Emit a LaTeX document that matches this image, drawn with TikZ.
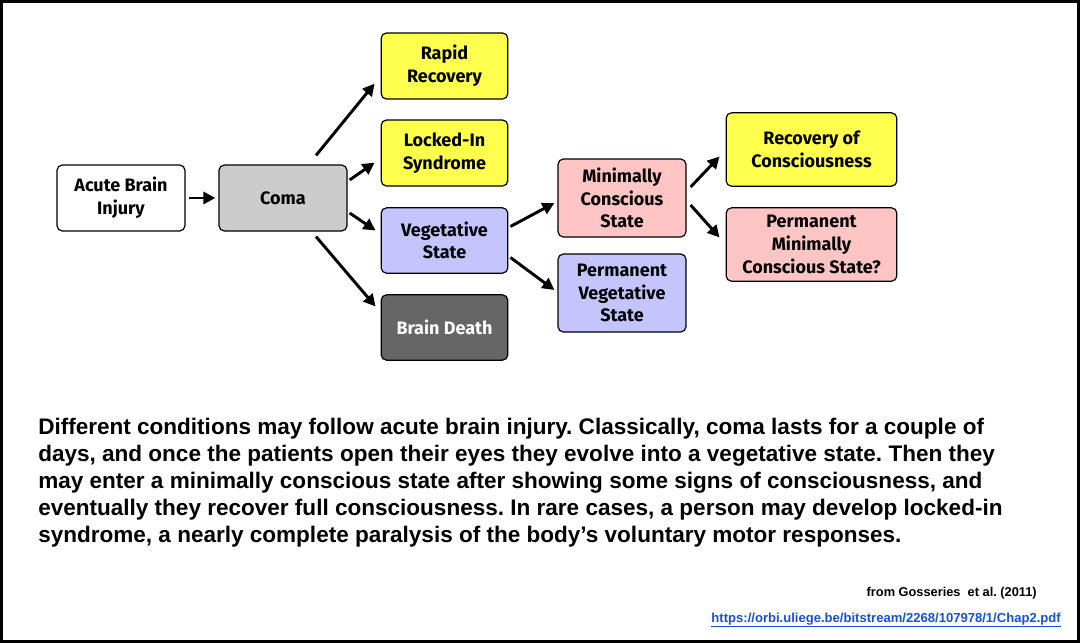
\documentclass[tikz,border=0pt]{standalone}
\usepackage{fontspec}
\setmainfont{Liberation Sans}
\newfontfamily\boxfont{Fira Sans}
\usetikzlibrary{calc,arrows.meta}
\definecolor{yel}{HTML}{FFFF4D}
\definecolor{lav}{HTML}{C4C4FF}
\definecolor{pnk}{HTML}{FFC4C4}
\definecolor{gry}{HTML}{CCCCCC}
\definecolor{dgry}{HTML}{666666}
\definecolor{lnk}{HTML}{1A4FD6}
\begin{document}
\frenchspacing
\begin{tikzpicture}[x=0.75pt,y=-0.75pt,
  box/.style={draw=black,line width=0.9pt,rounded corners=4pt,align=center,
    font=\boxfont\bfseries\fontsize{13.5}{17}\selectfont,inner sep=0pt},
  arr/.style={line width=2.2pt,-{Triangle[length=9pt,width=9pt]}}]
\draw[line width=2.2pt,fill=white] (1.5,1.5) rectangle (1078.5,641.5);
\useasboundingbox (0,0) rectangle (1080,643);
\node[box,fill=white,minimum width=96pt,minimum height=49.5pt] (abi) at (121,198) {Acute Brain\\Injury};
\node[box,fill=gry,minimum width=96pt,minimum height=49.5pt] (coma) at (283,198) {Coma};
\node[box,fill=yel,minimum width=95pt,minimum height=49.5pt] (rr) at (444.5,66) {Rapid\\Recovery};
\node[box,fill=yel,minimum width=95pt,minimum height=49.5pt] (lis) at (444.5,153) {Locked-In\\Syndrome};
\node[box,fill=lav,minimum width=95pt,minimum height=49pt] (vs) at (444.5,240.5) {Vegetative\\State};
\node[box,fill=dgry,text=white,minimum width=95pt,minimum height=49pt] (bd) at (444.5,327.5) {Brain Death};
\node[box,fill=pnk,minimum width=96pt,minimum height=58.5pt] (mcs) at (622,198) {Minimally\\Conscious\\State};
\node[box,fill=lav,minimum width=96pt,minimum height=58.5pt] (pvs) at (622,293) {Permanent\\Vegetative\\State};
\node[box,fill=yel,minimum width=128pt,minimum height=55pt] (roc) at (811.5,149.5) {Recovery of\\Consciousness};
\node[box,fill=pnk,minimum width=128pt,minimum height=55pt] (pmcs) at (811.5,244.5) {Permanent\\Minimally\\Conscious State?};
\draw[arr] ($(abi.east)+(3,0)$) -- ($(coma.west)+(-3,0)$);
\draw[arr] ($(coma.north)+(33,-9)$) -- ($(rr.south west)+(-6,-16)$);
\draw[arr] ($(coma.east)+(2,-18)$) -- ($(lis.south west)+(-6,-24)$);
\draw[arr] ($(coma.east)+(2,15)$) -- ($(vs.west)+(-5,-10)$);
\draw[arr] ($(coma.south)+(33,5)$) -- ($(bd.west)+(-5,-21)$);
\draw[arr] ($(vs.east)+(2,-14)$) -- ($(mcs.west)+(-3,5)$);
\draw[arr] ($(vs.east)+(2,17)$) -- ($(pvs.west)+(-3,-3)$);
\draw[arr] ($(mcs.east)+(4,-11)$) -- ($(roc.west)+(-6,7)$);
\draw[arr] ($(mcs.east)+(4,7)$) -- ($(pmcs.west)+(-6,-7)$);
\node[anchor=north west,align=left,inner sep=0pt,font=\bfseries\fontsize{16.9}{20.3}\selectfont] (cap) at (38,418)
{Different conditions may follow acute brain injury. Classically, coma lasts for a couple of\\
days, and once the patients open their eyes they evolve into a vegetative state. Then they\\
may enter a minimally conscious state after showing some signs of consciousness, and\\
eventually they recover full consciousness. In rare cases, a person may develop locked-in\\
syndrome, a nearly complete paralysis of the body’s voluntary motor responses.};
\node[anchor=east,inner sep=0pt,font=\bfseries\fontsize{9.6}{11}\selectfont] (src) at (1037,593) {from Gosseries\ \ et al. (2011)};
\node[anchor=east,inner sep=0pt,text=lnk,font=\bfseries\fontsize{9.8}{11}\selectfont] (url) at (1061,620) {\underline{https://orbi.uliege.be/bitstream/2268/107978/1/Chap2.pdf}};
\end{tikzpicture}
\end{document}
